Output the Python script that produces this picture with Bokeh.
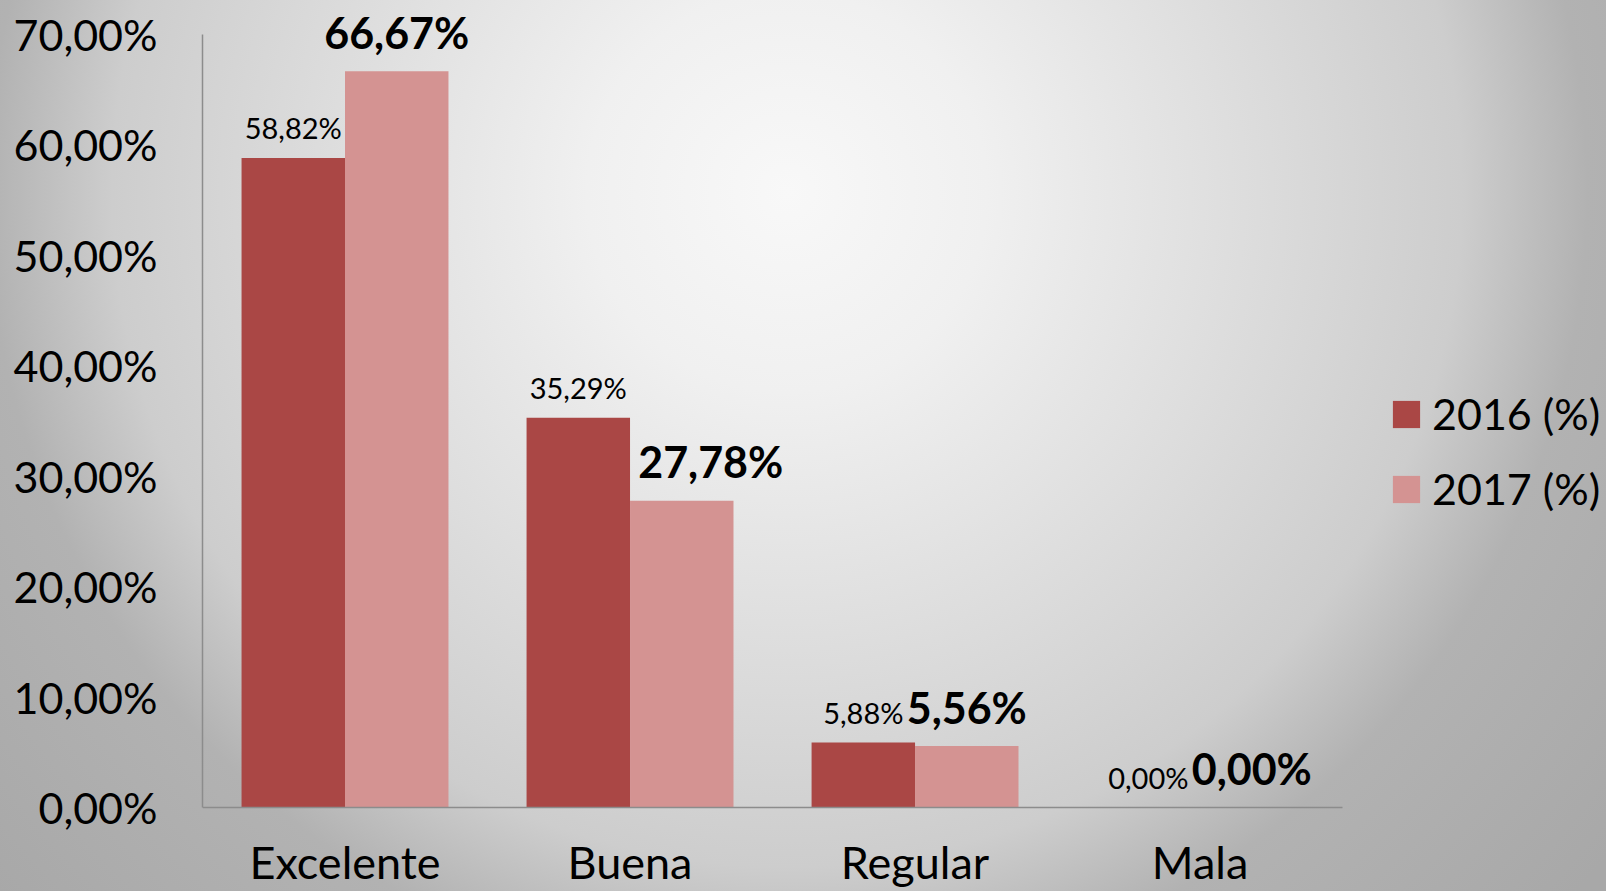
from bokeh.plotting import figure
from bokeh.models import (Range1d, FixedTicker, ColumnDataSource, LabelSet,
                          Legend, LegendItem, LinearAxis)
from bokeh.core.properties import value
from bokeh.embed import file_html
from bokeh.resources import INLINE

# ---- data ----
categories = ["Excelente", "Buena", "Regular", "Mala"]
values_2016 = [58.82, 35.29, 5.88, 0.00]
values_2017 = [66.67, 27.78, 5.56, 0.00]
series_names = ["2016 (%)", "2017 (%)"]
y_ticks = [0, 10, 20, 30, 40, 50, 60, 70]
y_tick_labels = ["0,00%", "10,00%", "20,00%", "30,00%", "40,00%", "50,00%", "60,00%", "70,00%"]


def fmt(v):
    return f"{v:.2f}".replace(".", ",") + "%"


FONT = "Lato"
C2016 = "#AA4745"
C2017 = "#D49392"
AXIS_C = "#8C8C8C"
BW = 0.363  # bar width (fraction of a category slot)

cat_pos = [i + 0.5 for i in range(len(categories))]
source = ColumnDataSource(dict(
    x16=[c - BW / 2 for c in cat_pos],
    x17=[c + BW / 2 for c in cat_pos],
    v2016=values_2016,
    v2017=values_2017,
    t2016=[fmt(v) for v in values_2016],
    t2017=[fmt(v) for v in values_2017],
    xoff2017=[0, 29, 0, 0],
))

W, H = 1606, 891
p = figure(
    x_range=Range1d(0, 4.926),
    y_range=Range1d(-7.607, 73.08),
    width=W, height=H,
    output_backend="svg", toolbar_location=None,
    min_border_left=202, min_border_right=0,
    min_border_top=0, min_border_bottom=0,
    x_axis_location=None,
)
p.styles = {
    "margin": "0px -16px -16px 0px",
    "background": "radial-gradient(circle 1056px at 787px 192px, #f8f8f8 0px, #f0f0f0 200px, "
                  "#cdcdcd 675px, #b2b2b2 800px, #a8a8a8 1056px)",
}
p.background_fill_color = None
p.border_fill_color = None
p.outline_line_color = None
p.grid.grid_line_color = None

r16 = p.vbar(x="x16", top="v2016", width=BW, source=source, fill_color=C2016, line_color=None)
r17 = p.vbar(x="x17", top="v2017", width=BW, source=source, fill_color=C2017, line_color=None)

# data labels
lab16 = LabelSet(x="x16", y="v2016", text="t2016", source=source,
                 text_align="center", text_baseline="middle", y_offset=30,
                 text_font=value(FONT), text_font_size="29px", text_color="black")
lab17 = LabelSet(x="x17", y="v2017", text="t2017", source=source,
                 text_align="center", text_baseline="middle",
                 x_offset="xoff2017", y_offset=39, text_font=value(FONT), text_font_size="43px",
                 text_font_style="bold", text_color="black")
p.add_layout(lab16)
p.add_layout(lab17)

# y axis
p.yaxis.ticker = FixedTicker(ticks=y_ticks)
p.yaxis.bounds = (0, 70)
p.yaxis.major_label_overrides = {t: l for t, l in zip(y_ticks, y_tick_labels)}
p.yaxis.major_label_text_font = FONT
p.yaxis.major_label_text_font_size = "43px"
p.yaxis.major_label_text_color = "black"
p.yaxis.major_label_standoff = 39
p.yaxis.major_tick_line_color = None
p.yaxis.minor_tick_line_color = None
p.yaxis.axis_line_color = AXIS_C
p.yaxis.axis_line_width = 1.5

# x axis (category axis drawn at y = 0)
xaxis = LinearAxis(fixed_location=0)
xaxis.ticker = FixedTicker(ticks=cat_pos)
xaxis.bounds = (0, len(categories))
xaxis.major_label_overrides = {c: n for c, n in zip(cat_pos, categories)}
xaxis.major_label_text_font = FONT
xaxis.major_label_text_font_size = "45px"
xaxis.major_label_text_color = "black"
xaxis.major_label_standoff = 22
xaxis.major_tick_line_color = None
xaxis.minor_tick_line_color = None
xaxis.axis_line_color = AXIS_C
xaxis.axis_line_width = 1.5
p.add_layout(xaxis, "below")

# legend
lg = Legend(items=[LegendItem(label=series_names[0], renderers=[r16]),
                   LegendItem(label=series_names[1], renderers=[r17])],
            location=(1187, 377))
lg.padding = 0
lg.margin = 0
lg.border_line_color = None
lg.background_fill_alpha = 0
lg.glyph_width = 34
lg.glyph_height = 34
lg.label_standoff = 9
lg.spacing = 24
lg.label_text_font = FONT
lg.label_text_font_size = "43px"
lg.label_text_color = "black"
p.add_layout(lg)

open("out.html", "w").write(file_html(p, INLINE))
